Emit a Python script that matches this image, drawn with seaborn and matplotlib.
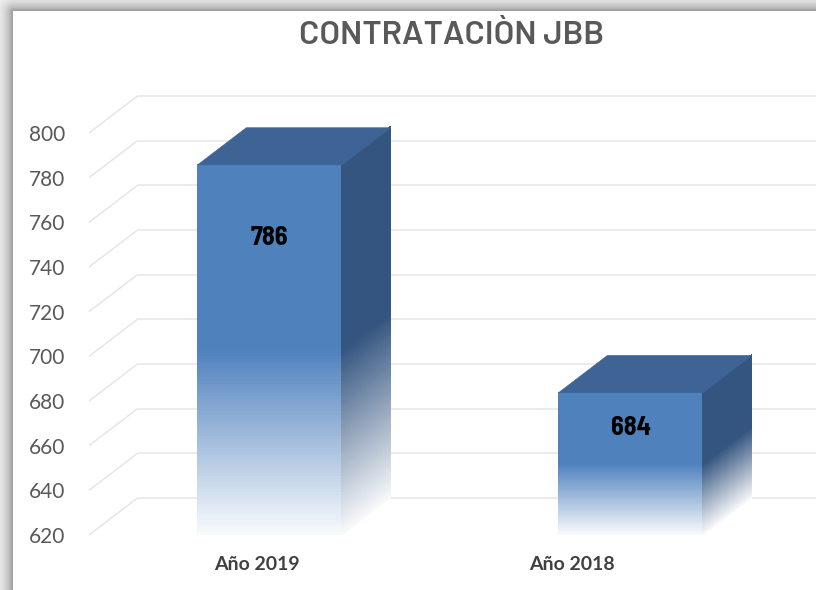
import numpy as np
import pandas as pd
import matplotlib
matplotlib.use("Agg")
import matplotlib.pyplot as plt
import seaborn as sns
from matplotlib.collections import PolyCollection
from matplotlib.colors import to_rgb

# ---- data ----
categories = ["Año 2019", "Año 2018"]
values = [786, 684]
y_ticks = [620, 640, 660, 680, 700, 720, 740, 760, 780, 800]
title = "CONTRATACIÒN JBB"

# ---- style ----
front_color = "#4F81BD"
top_color = "#3D6494"
side_color = "#345580"
grid_color = "#E6E6E6"
text_gray = "#595959"
narrow = ["Barlow Semi Condensed", "DejaVu Sans"]
title_font = ["Barlow", "Barlow Semi Condensed", "DejaVu Sans"]

sns.set_theme(style="white")
plt.rcParams["font.family"] = ["Lato", "DejaVu Sans"]

W, H = 816, 590
fig = plt.figure(figsize=(W / 100, H / 100), dpi=100)

# background card with soft shadow on left and top
bg = fig.add_axes([0, 0, 1, 1], zorder=0)
bg.axis("off")
xx, yy = np.meshgrid(np.arange(W), np.arange(H))
card_x0, card_y0 = 13, 11
dx = np.clip(card_x0 - xx, 0, None)
dy = np.clip(card_y0 - yy, 0, None)
d = np.sqrt(dx ** 2 + dy ** 2)
outside = (dx > 0) | (dy > 0)
dark = np.where(outside, 0.42 * np.exp(-d / 9.0), 0.0)
img = np.ones((H, W, 3)) * (1 - dark)[..., None]
bg.imshow(img, extent=[0, W, H, 0], aspect="auto", interpolation="bilinear")
bg.set_xlim(0, W)
bg.set_ylim(H, 0)

# main axes (front plane)
ax = fig.add_axes([89 / W, 55 / H, 722 / W, 402 / H], zorder=1)
ax.patch.set_alpha(0)
df = pd.DataFrame({"cat": categories, "val": values})
sns.barplot(data=df, x="cat", y="val", color=front_color, saturation=1,
            width=0.4, ax=ax, zorder=3, edgecolor="none")

floor = y_ticks[0]
ax.set_xlim(-0.5, 1.5)
ax.set_ylim(floor, y_ticks[-1])
for s in ax.spines.values():
    s.set_visible(False)

px_per_x = 722 / 2.0
px_per_y = 402 / (y_ticks[-1] - floor)
depth_dx = 48.5 / px_per_x
depth_dy = 37.0 / px_per_y

# back wall gridlines with perspective diagonals
x_left = -0.5
for v in y_ticks:
    ax.plot([x_left, x_left + depth_dx], [v, v + depth_dy], color=grid_color,
            lw=1.1, clip_on=False, zorder=1, solid_capstyle="butt")
    ax.plot([x_left + depth_dx, 1.6], [v + depth_dy, v + depth_dy],
            color=grid_color, lw=1.1, clip_on=False, zorder=1)

white = np.array([1.0, 1.0, 1.0])


def fade_mix(h):
    t = np.clip((0.5 - h) / 0.5, 0, 1)
    return t * 0.97


n_strips = 120
for p, v in zip(ax.patches, values):
    x0 = p.get_x()
    w = p.get_width()
    x1 = x0 + w
    top = v
    height = top - floor
    fc = np.array(to_rgb(front_color))
    sc = np.array(to_rgb(side_color))
    polys, cols, spolys, scols = [], [], [], []
    edges = np.linspace(0, 1, n_strips + 1)
    for a, b in zip(edges[:-1], edges[1:]):
        ya = floor + a * height
        yb = floor + b * height + 0.2 * height / n_strips
        hm = (a + b) / 2
        m = fade_mix(hm)
        polys.append([(x0, ya), (x1, ya), (x1, yb), (x0, yb)])
        cols.append(tuple(fc * (1 - m) + white * m))
        spolys.append([(x1, ya), (x1 + depth_dx, ya + depth_dy),
                       (x1 + depth_dx, yb + depth_dy), (x1, yb)])
        scols.append(tuple(sc * (1 - m) + white * m))
    ax.add_collection(PolyCollection(polys, facecolors=cols, edgecolors="none",
                                     zorder=4, clip_on=False, antialiased=False))
    ax.add_collection(PolyCollection(spolys, facecolors=scols, edgecolors="none",
                                     zorder=4, clip_on=False, antialiased=False))
    ax.add_collection(PolyCollection(
        [[(x0, top), (x1, top), (x1 + depth_dx, top + depth_dy),
          (x0 + depth_dx, top + depth_dy)]],
        facecolors=[top_color], edgecolors=[top_color], lw=0.5,
        zorder=5, clip_on=False))
    ax.text(x0 + w / 2, floor + 0.83 * height - 5, f"{v}", ha="center",
            va="center", fontsize=19, fontweight="bold", color="black",
            family=narrow, zorder=6)

ax.set_yticks(y_ticks)
ax.set_yticklabels([str(t) for t in y_ticks], fontsize=15, color=text_gray)
ax.tick_params(axis="y", length=0, pad=17)
ax.set_ylabel("")

label_pos = np.arange(len(categories)) * 0.873 - 0.035
ax.set_xticks(label_pos)
ax.set_xticklabels(categories, fontsize=14, fontweight="bold", color="#404040")
ax.tick_params(axis="x", length=0, pad=15)
ax.set_xlabel("")

fig.text(452 / W, 1 - 36 / H, title, ha="center", va="center", fontsize=24,
         fontweight="semibold", color=text_gray, family=title_font)

fig.savefig("out.png", dpi=100)
